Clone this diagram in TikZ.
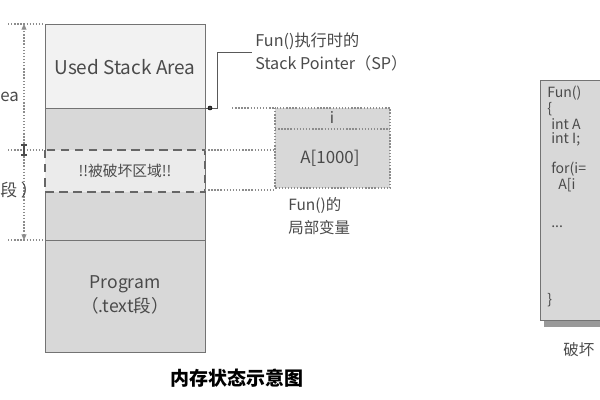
\documentclass[tikz,border=0pt]{standalone}
\usepackage{fontspec}
\setmainfont{Noto Sans CJK SC}
\usetikzlibrary{arrows.meta}
\definecolor{boxgray}{HTML}{D8D8D8}
\definecolor{usedgray}{HTML}{F2F2F2}
\definecolor{hitgray}{HTML}{EBEBEB}
\definecolor{inkgray}{HTML}{4A4A4A}
\tikzset{every node/.style={align=center, text=inkgray, inner sep=0pt},
    boxline/.style={draw=black!55, line width=0.6pt},
    dotline/.style={draw=black!45, line width=0.8pt, dash pattern=on 1pt off 1.2pt},
    dimarrow/.style={dotline, -{Triangle[length=4pt,width=3.5pt]}},
    hitline/.style={draw=black!60, line width=1.4pt, dash pattern=on 6pt off 4pt}}

\begin{document}
\begin{tikzpicture}[x=0.025cm, y=-0.025cm]
        % \draw[help lines,step=50] (0,0) grid (600,400);
        \useasboundingbox (0,0) rectangle (600,400);
        \clip (0,0) rectangle (600,400);

        % memory column
        \draw[boxline, fill=usedgray] (45,24) rectangle (205,108);
        \draw[boxline, fill=boxgray] (45,108) rectangle (205,240);
        \draw[boxline, fill=boxgray] (45,240) rectangle (205,352);
        \draw[hitline, fill=hitgray] (45,150) rectangle (205,192);
        \draw (125,67) node[font=\fontsize{13.5}{15}\selectfont] (used) {Used Stack Area};
        \draw (125,171) node[font=\fontsize{10.5}{12}\selectfont] (hit) {!!被破坏区域!!};
        \draw (125,284) node[font=\fontsize{12.5}{15}\selectfont] (prog) {Program};
        \draw (125,306) node[font=\fontsize{12.5}{15}\selectfont] (progseg) {（.text段）};

        % left dimension lines
        \coordinate (top) at (24,24);
        \coordinate (mid) at (24,150);
        \coordinate (bot) at (24,240);
        \draw[dotline] (8,24) -- (45,24);
        \draw[dotline] (8,150) -- (45,150);
        \draw[dotline] (8,240) -- (45,240);
        \draw[dimarrow] (mid) -- (top);
        \draw[dimarrow] (mid) -- (bot);
        \draw[black!70, line width=0.8pt] (21,145) -- (27,145) (24,145) -- (24,155) (21,155) -- (27,155);
        \draw (0,97) node[anchor=west, font=\fontsize{12}{14}\selectfont] (arealbl) {ea};
        \draw (0,190) node[anchor=west, font=\fontsize{12}{14}\selectfont] (seglbl) {段 ）};

        % stack pointer of Fun()
        \coordinate (sp) at (210,108);
        \draw (255,41) node[anchor=west, font=\fontsize{11.5}{14}\selectfont] (sptxt) {Fun()执行时的};
        \draw (255,63) node[anchor=west, font=\fontsize{11.5}{14}\selectfont] (sptxt2) {Stack Pointer（SP）};
        \draw[black!65, line width=0.6pt] (205,108) -- (217,108) -- (217,52) -- (252,52);
        \draw[fill=black!75] (sp) circle(2);

        % local variables of Fun()
        \draw[dotline, fill=boxgray] (275,108) rectangle (390,188);
        \draw[dotline] (275,129) -- (390,129);
        \draw[dotline] (232,108) -- (275,108);
        \draw[dotline] (205,150) -- (275,150);
        \draw[dotline] (205,190) -- (275,190);
        \draw (332,118) node[font=\fontsize{11}{13}\selectfont] (ivar) {i};
        \draw (330,158) node[font=\fontsize{12}{14}\selectfont] (avar) {A[1000]};
        \draw (288,205) node[anchor=west, font=\fontsize{11}{13}\selectfont] (loc1) {Fun()的};
        \draw (288,228) node[anchor=west, font=\fontsize{11}{13}\selectfont] (loc2) {局部变量};

        \draw (237,378) node[font=\bfseries\fontsize{13.5}{16}\selectfont, text=black] (caption) {内存状态示意图};

        % code of Fun()
        \fill[black!40] (544,320) rectangle (610,327);
        \draw[boxline, fill=boxgray] (540,80) rectangle (610,320);
        \begin{scope}[every node/.append style={anchor=west, font=\fontsize{10}{12}\selectfont}]
            \draw (547,93) node (c1) {Fun()};
            \draw (547,109) node (c2) {\{};
            \draw (551,124) node (c3) {int A};
            \draw (551,139) node (c4) {int I;};
            \draw (551,169) node (c5) {for(i=};
            \draw (558,185) node (c6) {A[i};
            \draw (551,227) node (c7) {...};
            \draw (547,300) node (c8) {\}};
        \end{scope}
        \draw (563,350) node[anchor=west, font=\fontsize{11}{13}\selectfont] (brk) {破坏};
\end{tikzpicture}
\end{document}
